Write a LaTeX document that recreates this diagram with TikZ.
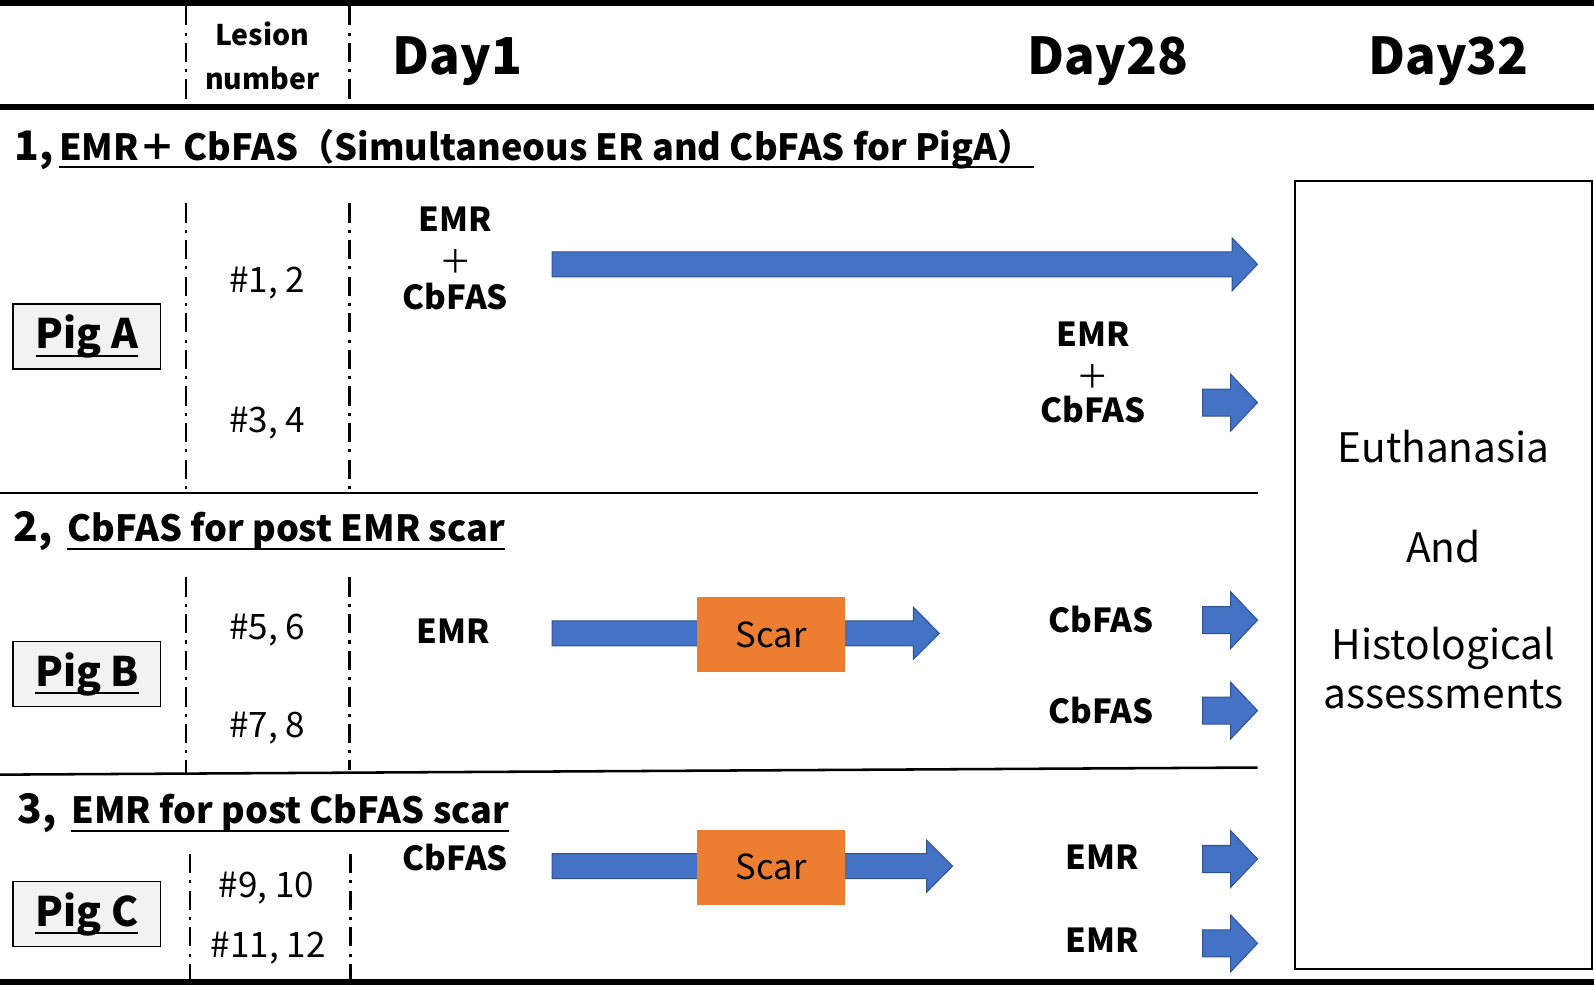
\documentclass[tikz,border=0pt]{standalone}
\usepackage{fontspec}
\setmainfont{Noto Sans CJK JP}
\usetikzlibrary{calc}
\definecolor{arrblue}{HTML}{4472C4}
\definecolor{arrborder}{HTML}{2F528F}
\definecolor{scarorange}{HTML}{ED7D31}
\definecolor{piggray}{HTML}{F2F2F2}
\newcommand{\fsz}[1]{\fontsize{#1}{#1}\selectfont}
\newcommand{\blkarrow}[6]{%
  \filldraw[blkarr] (#1,#3-#4) -- (#2-#6,#3-#4) -- (#2-#6,#3-#5) -- (#2,#3) -- (#2-#6,#3+#5) -- (#2-#6,#3+#4) -- (#1,#3+#4) -- cycle;}
\tikzset{
  lbl/.style={inner sep=0pt, anchor=base, font=\bfseries\fsz{32.5}},
  plus/.style={inner sep=0pt, anchor=center, font=\fsz{32}},
  num/.style={inner sep=0pt, anchor=base, font=\fsz{34.5}},
  day/.style={inner sep=0pt, anchor=base, font=\bfseries\fsz{50}},
  hdr/.style={inner sep=0pt, anchor=base, font=\bfseries\fsz{28}},
  ttl/.style={inner sep=0pt, anchor=base west, font=\bfseries\fsz{35.5}},
  tnum/.style={inner sep=0pt, anchor=base west, font=\bfseries\fsz{40}},
  pigbox/.style={draw, fill=piggray, line width=1.5pt, minimum width=145pt, minimum height=64pt, inner sep=0pt},
  pigtxt/.style={inner sep=0pt, anchor=base, font=\bfseries\fsz{40}},
  scarbox/.style={fill=scarorange, minimum width=145pt, minimum height=74pt, inner sep=0pt, font=\fsz{34}},
  endtxt/.style={inner sep=0pt, anchor=base, font=\fsz{40}},
  dd/.style={line width=2.5pt, dash pattern=on 19pt off 7pt on 3pt off 7pt},
  blkarr/.style={fill=arrblue, draw=arrborder, line width=1pt},
  uline/.style={line width=2pt},
  thick rule/.style={line width=6pt},
  thin rule/.style={line width=2pt}
}
\begin{document}
\begin{tikzpicture}[x=1pt,y=-1pt]
\useasboundingbox (0,0) rectangle (1568,970);
% rules
\draw[thick rule] (0,3) -- (1568,3);
\draw[thick rule] (0,105) -- (1568,105);
\draw[thick rule] (0,966) -- (1568,966);
\draw[thin rule] (0,485) -- (1237,485);
\draw[line width=2.5pt] (0,762) -- (1237,755);
% dashed column lines
\draw[dd] (183,6) -- (183,103);
\draw[dd] (344,6) -- (344,103);
\draw[dd] (183,200) -- (183,485);
\draw[dd] (344,200) -- (344,485);
\draw[dd] (183,568) -- (183,760);
\draw[dd] (344,568) -- (344,757);
\draw[dd] (187,840) -- (187,966);
\draw[dd] (345,840) -- (345,966);
% header
\node[hdr] (les1) at (258,45) {Lesion};
\node[hdr] (les2) at (258,88) {number};
\node[day] (d1) at (450,73) {Day1};
\node[day] (d28) at (1090,73) {Day28};
\node[day] (d32) at (1425,73) {Day32};
% section titles
\node[tnum] (n1) at (14,158) {1,};
\node[ttl] (t1) at (58,158) {EMR＋ CbFAS（Simultaneous ER and CbFAS for PigA）};
\draw[uline] ($(t1.base west)+(0,6)$) -- ($(t1.base east)+(0,6)$);
\node[tnum] (n2) at (13,533) {2,};
\node[ttl] (t2) at (66,533) {CbFAS for post EMR scar};
\draw[uline] ($(t2.base west)+(0,7)$) -- ($(t2.base east)+(0,7)$);
\node[tnum] (n3) at (17,810) {3,};
\node[ttl] (t3) at (70,810) {EMR for post CbFAS scar};
\draw[uline] ($(t3.base west)+(0,7)$) -- ($(t3.base east)+(0,7)$);
% pig boxes
\node[pigbox] (pA) at (85.5,331) {};
\node[pigtxt] (pAt) at (85.5,343) {Pig A};
\draw[uline] ($(pAt.base west)+(0,7)$) -- ($(pAt.base east)+(0,7)$);
\node[pigbox] (pB) at (85.5,663) {};
\node[pigtxt] (pBt) at (85.5,675) {Pig B};
\draw[uline] ($(pBt.base west)+(0,7)$) -- ($(pBt.base east)+(0,7)$);
\node[pigbox] (pC) at (85.5,899) {};
\node[pigtxt] (pCt) at (85.5,911) {Pig C};
\draw[uline] ($(pCt.base west)+(0,7)$) -- ($(pCt.base east)+(0,7)$);
% lesion numbers
\node[num] (l12) at (263,288) {\#1, 2};
\node[num] (l34) at (263,425) {\#3, 4};
\node[num] (l56) at (263,629) {\#5, 6};
\node[num] (l78) at (263,725) {\#7, 8};
\node[num] (l910) at (262,883) {\#9, 10};
\node[num] (l1112) at (264,942) {\#11, 12};
% section 1
\node[lbl] (a1) at (448,228) {EMR};
\node[plus] (a2) at (448,257) {＋};
\node[lbl] (a3) at (448,304) {CbFAS};
\blkarrow{543}{1237}{260}{12.3}{26}{25}
\node[lbl] (b1) at (1075,341) {EMR};
\node[plus] (b2) at (1075,370) {＋};
\node[lbl] (b3) at (1075,416) {CbFAS};
\blkarrow{1183}{1237}{396}{13.3}{28}{26.5}
% section 2
\node[lbl] (c1) at (446,633) {EMR};
\blkarrow{543}{924}{623}{12.3}{25.6}{25.5}
\node[scarbox] (s1) at (758.5,624) {Scar};
\node[lbl] (c2) at (1083,622) {CbFAS};
\blkarrow{1183}{1237}{610}{13.3}{28}{26.5}
\node[lbl] (c3) at (1083,712) {CbFAS};
\blkarrow{1183}{1237}{699}{13.3}{28}{26.5}
% section 3
\node[lbl] (e1) at (448,856) {CbFAS};
\blkarrow{543}{937}{852}{12.3}{25.6}{25.5}
\node[scarbox] (s2) at (758.5,853) {Scar};
\node[lbl] (e2) at (1084,855) {EMR};
\blkarrow{1183}{1237}{845}{13.3}{28}{26.5}
\node[lbl] (e3) at (1084,937) {EMR};
\blkarrow{1183}{1237}{928}{13.3}{28}{26.5}
% end box
\draw[line width=2pt] (1274,178) rectangle (1566,953);
\node[endtxt] (x1) at (1420,455) {Euthanasia};
\node[endtxt] (x2) at (1420,553) {And};
\node[endtxt] (x3) at (1420,649) {Histological};
\node[endtxt] (x4) at (1420,697) {assessments};
\end{tikzpicture}
\end{document}
